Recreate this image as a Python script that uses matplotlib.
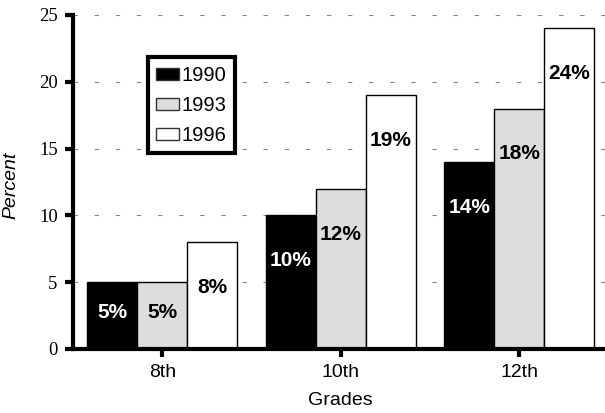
import numpy as np
import matplotlib.pyplot as plt
from matplotlib.patches import Patch

grades = ["8th", "10th", "12th"]
years = ["1990", "1993", "1996"]
pct_1990 = [5, 10, 14]
pct_1993 = [5, 12, 18]
pct_1996 = [8, 19, 24]

series = [pct_1990, pct_1993, pct_1996]
fills = ["#000000", "#dddddd", "#ffffff"]
text_colors = ["white", "black", "black"]

fig = plt.figure(figsize=(6.05, 4.13), dpi=100)
ax = fig.add_axes([0.1207, 0.155, 0.885, 0.8087])

x = np.arange(len(grades))
width = 0.28

ax.set_axisbelow(True)
ax.yaxis.grid(True, color="#888888", linestyle=(0, (4, 15)), linewidth=0.8)

for i, (vals, fc, tc) in enumerate(zip(series, fills, text_colors)):
    pos = x + (i - 1) * width
    ax.bar(pos, vals, width, color=fc, edgecolor="black", linewidth=1.0)
    for p, v in zip(pos, vals):
        # label sits a little under the bar top, but stays inside short bars
        ly = max(v - 3.4, v * 0.55)
        ax.text(p, ly, f"{v}%", ha="center", va="center", fontsize=15,
                fontweight="bold", color=tc, family="Liberation Sans")

ax.set_xlim(-0.5, 2.5)
ax.set_ylim(0, 25)
ax.set_yticks(range(0, 26, 5))
ax.set_xticks(x)
ax.set_xticklabels(grades, family="Liberation Sans", fontsize=14)
for lab in ax.get_yticklabels():
    lab.set_family("Liberation Serif")
    lab.set_fontsize(13.5)

for side in ["top", "right"]:
    ax.spines[side].set_visible(False)
ax.spines["left"].set_linewidth(3)
ax.spines["bottom"].set_linewidth(3)
ax.tick_params(axis="both", width=3, length=6, direction="out")
ax.tick_params(axis="y", pad=5)
ax.tick_params(axis="x", pad=5)

ax.set_ylabel("Percent", style="italic", family="Liberation Sans", fontsize=14)
ax.set_xlabel("Grades", family="Liberation Sans", fontsize=14)
ax.yaxis.set_label_coords(-0.1, 0.49)
ax.xaxis.set_label_coords(0.5, -0.128)

handles = [Patch(facecolor=fc, edgecolor="#333333") for fc in fills]
leg = ax.legend(handles, years, loc="upper left", bbox_to_anchor=(0.14, 0.873),
                fancybox=False, framealpha=1, edgecolor="black",
                prop={"family": "Liberation Sans", "size": 14.5},
                handlelength=1.1, handleheight=0.55, handletextpad=0.15,
                borderpad=0.42, labelspacing=0.55, borderaxespad=0)
leg.get_frame().set_linewidth(3)

fig.savefig("out.png", dpi=100)
